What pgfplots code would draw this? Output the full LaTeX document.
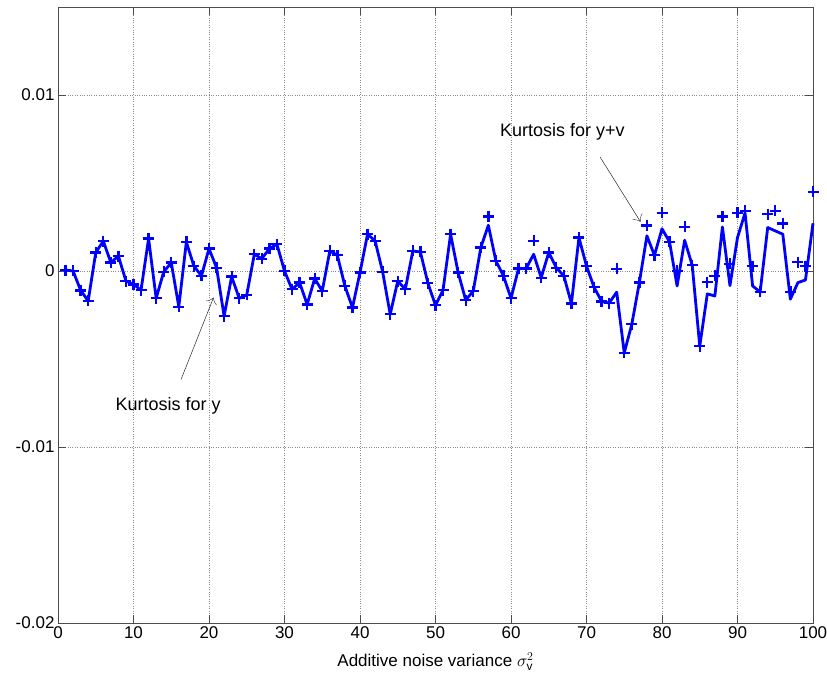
\documentclass[border=0pt]{standalone}
\usepackage{pgfplots}
\pgfplotsset{compat=1.18}
\usepackage{pgfplotstable}
\usepackage{fontspec}
\setmainfont{Liberation Sans}
\setsansfont{Liberation Sans}
\usetikzlibrary{arrows.meta}
\pgfplotstableread{
x y m
1 0.05e-3 0.05e-3
2 0.0e-3 0.0e-3
3 -1.1e-3 -1.1e-3
4 -1.7e-3 -1.7e-3
5 1.05e-3 1.05e-3
6 1.7e-3 1.7e-3
7 0.48e-3 0.48e-3
8 0.85e-3 0.85e-3
9 -0.57e-3 -0.57e-3
10 -0.76e-3 -0.76e-3
11 -1.08e-3 -1.08e-3
12 1.84e-3 1.84e-3
13 -1.55e-3 -1.55e-3
14 -0.05e-3 -0.05e-3
15 0.48e-3 0.48e-3
16 -2.03e-3 -2.03e-3
17 1.65e-3 1.65e-3
18 0.28e-3 0.28e-3
19 -0.28e-3 -0.28e-3
20 1.27e-3 1.27e-3
21 0.19e-3 0.19e-3
22 -2.56e-3 -2.56e-3
23 -0.32e-3 -0.32e-3
24 -1.55e-3 -1.55e-3
25 -1.36e-3 -1.36e-3
26 0.95e-3 0.95e-3
27 0.7e-3 0.7e-3
28 1.27e-3 1.27e-3
29 1.52e-3 1.52e-3
30 0.0e-3 0.0e-3
31 -1.04e-3 -1.04e-3
32 -0.66e-3 -0.66e-3
33 -1.9e-3 -1.9e-3
34 -0.43e-3 -0.43e-3
35 -1.14e-3 -1.14e-3
36 1.14e-3 1.14e-3
37 0.89e-3 0.89e-3
38 -0.85e-3 -0.85e-3
39 -2.08e-3 -2.08e-3
40 -0.09e-3 -0.09e-3
41 2.09e-3 2.09e-3
42 1.71e-3 1.71e-3
43 -0.05e-3 -0.05e-3
44 -2.46e-3 -2.46e-3
45 -0.57e-3 -0.57e-3
46 -1.04e-3 -1.04e-3
47 1.14e-3 1.14e-3
48 1.08e-3 1.08e-3
49 -0.70e-3 -0.70e-3
50 -1.95e-3 -1.95e-3
51 -1.08e-3 -1.08e-3
52 2.09e-3 2.09e-3
53 -0.09e-3 -0.09e-3
54 -1.65e-3 -1.65e-3
55 -1.14e-3 -1.14e-3
56 1.33e-3 1.33e-3
57 2.6e-3 3.1e-3
58 0.57e-3 0.57e-3
59 -0.28e-3 -0.28e-3
60 -1.55e-3 -1.55e-3
61 0.14e-3 0.14e-3
62 0.14e-3 0.14e-3
63 0.95e-3 1.71e-3
64 -0.38e-3 -0.38e-3
65 1.05e-3 1.05e-3
66 0.19e-3 0.19e-3
67 -0.28e-3 -0.28e-3
68 -1.85e-3 -1.85e-3
69 1.9e-3 1.9e-3
70 0.28e-3 0.28e-3
71 -0.92e-3 -0.92e-3
72 -1.73e-3 -1.73e-3
73 -1.82e-3 -1.82e-3
74 -1.2e-3 0.12e-3
75 -4.65e-3 -4.65e-3
76 -3.03e-3 -3.03e-3
77 -0.66e-3 -0.66e-3
78 2.0e-3 2.58e-3
79 0.89e-3 0.89e-3
80 2.4e-3 3.3e-3
81 1.65e-3 1.65e-3
82 -0.85e-3 0.0e-3
83 1.75e-3 2.5e-3
84 0.33e-3 0.33e-3
85 -4.27e-3 -4.27e-3
86 -1.3e-3 -0.63e-3
87 -1.42e-3 -0.28e-3
88 2.5e-3 3.1e-3
89 -0.83e-3 0.41e-3
90 1.9e-3 3.3e-3
91 3.3e-3 3.42e-3
92 -0.85e-3 0.28e-3
93 -1.19e-3 -1.19e-3
94 2.47e-3 3.23e-3
95 2.28e-3 3.42e-3
96 2.09e-3 2.7e-3
97 -1.6e-3 -1.19e-3
98 -0.66e-3 0.51e-3
99 -0.51e-3 0.28e-3
100 2.71e-3 4.5e-3
}\kurt
\begin{document}
\begin{tikzpicture}
\begin{axis}[
  scale only axis,
  width=755bp, height=616bp,
  xmin=0, xmax=100, ymin=-0.02, ymax=0.015,
  xtick={0,10,...,100},
  ytick={-0.02,-0.01,0,0.01},
  yticklabels={-0.02,-0.01,0,0.01},
  scaled y ticks=false,
  /pgf/number format/assume math mode=true,
  tick label style={font=\fontsize{17bp}{19bp}\selectfont},
  label style={font=\fontsize{17bp}{19bp}\selectfont},
  xlabel={Additive noise variance $\sigma_{\mathrm{v}}^{2}$},
  xlabel style={yshift=-7bp},
  grid=major,
  major grid style={dotted, black!45, line width=0.6bp},
  axis line style={black!70, line width=0.8bp},
  major tick length=8bp,
  tick style={black!70, line width=0.8bp},
  clip=false,
]
\addplot[blue, line width=2.8bp, line join=round] table[x=x, y=y] {\kurt};
\addplot[blue, only marks, mark=+, mark size=5.5bp, mark options={line width=2.3bp}] table[x=x, y=m] {\kurt};
\node[font=\fontsize{18bp}{20bp}\selectfont] at (axis cs:66.8,0.0079) {Kurtosis for y+v};
\draw[black!85, line width=0.5bp, -{Classical TikZ Rightarrow[length=6bp]}] (axis cs:71.8,0.00647) -- (axis cs:77.15,0.0028);
\node[font=\fontsize{18bp}{20bp}\selectfont] at (axis cs:14.6,-0.00765) {Kurtosis for y};
\draw[black!85, line width=0.5bp, -{Classical TikZ Rightarrow[length=6bp]}] (axis cs:16.3,-0.00616) -- (axis cs:20.6,-0.00151);
\end{axis}
\pgfresetboundingbox
\path ([shift={(-58bp,-59bp)}]current axis.south west) rectangle ([shift={(14bp,7bp)}]current axis.north east);
\end{tikzpicture}
\end{document}
